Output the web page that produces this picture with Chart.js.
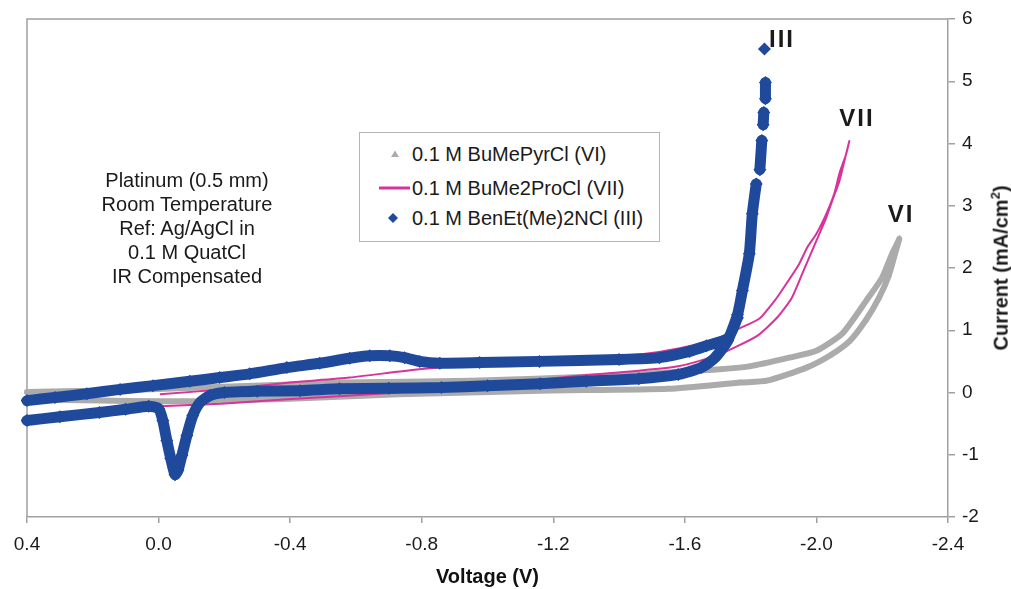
<!DOCTYPE html>
<html>
<head>
<meta charset="utf-8">
<script src="https://cdn.jsdelivr.net/npm/chart.js@4"></script>
<style>
  html, body { margin: 0; padding: 0; background: #fff; }
  #wrap { position: relative; width: 1011px; height: 589px; font-family: "Liberation Sans", Arial, sans-serif; color: #1a1a1a; }
  #cv { position: absolute; left: 0; top: 0; }
  .note { position: absolute; left: 37px; top: 168px; width: 300px; text-align: center; font-size: 20px; line-height: 24px; }
  .legend { position: absolute; left: 359px; top: 132px; width: 301px; height: 110px; border: 1px solid #b5b5b5; background: #fff; box-sizing: border-box; }
  .legend .row { position: absolute; left: 0; height: 24px; line-height: 24px; font-size: 20px; white-space: nowrap; }
  .legend .row span { position: absolute; left: 52px; top: 0; }
  .legend svg { position: absolute; top: 0; }
  .ytitle { position: absolute; left: 1000px; top: 268px; transform: translate(-50%, -50%) rotate(-90deg); font-size: 20px; font-weight: bold; white-space: nowrap; }
  .ytitle sup { font-size: 13px; }
  .tag { position: absolute; font-size: 24px; font-weight: bold; letter-spacing: 2px; transform: translate(-50%, -50%); }
</style>
</head>
<body>
<div id="wrap">
  <canvas id="cv" width="1011" height="589"></canvas>
  <div class="note">Platinum (0.5 mm)<br>Room Temperature<br>Ref: Ag/AgCl in<br>0.1 M QuatCl<br>IR Compensated</div>
  <div class="legend" id="legend"></div>
  <div class="ytitle">Current (mA/cm<sup>2</sup>)</div>
  <div class="tag" style="left:782px;top:39px">III</div>
  <div class="tag" style="left:857px;top:118px">VII</div>
  <div class="tag" style="left:901px;top:214px">VI</div>
</div>
<script>
'use strict';

const SERIES_NAMES = ['0.1 M BuMePyrCl (VI)', '0.1 M BuMe2ProCl (VII)', '0.1 M BenEt(Me)2NCl (III)'];
const GRAY = '#ababab', PINK = '#d8339a', BLUE = '#1f4a9c';

// VI: forward sweep (lower branch) then return (upper branch)
const viVolts = [0.40, 0.18, 0.00, -0.13, -0.40, -0.73, -1.16, -1.55, -1.77, -1.85, -1.97, -2.04, -2.10, -2.15, -2.19, -2.22, -2.246, -2.252,
                 -2.246, -2.23, -2.20, -2.152, -2.079, -2.00, -1.918, -1.797, -1.697, -1.34, -0.95, -0.55, -0.40, -0.13, 0.18, 0.40];
const viCurrent = [-0.11, -0.13, -0.14, -0.14, -0.10, -0.03, 0.03, 0.06, 0.16, 0.19, 0.40, 0.59, 0.82, 1.16, 1.52, 1.88, 2.36, 2.47,
                   2.40, 2.23, 1.85, 1.48, 0.95, 0.67, 0.56, 0.42, 0.37, 0.26, 0.19, 0.16, 0.13, 0.08, 0.03, 0.01];

// VII
const viiVolts = [-0.004, -0.19, -0.39, -0.73, -1.04, -1.26, -1.46, -1.58, -1.70, -1.75, -1.82, -1.88, -1.924, -1.957, -2.00, -2.03, -2.048, -2.07, -2.085, -2.10,
                  -2.091, -2.07, -2.054, -2.03, -2.00, -1.972, -1.948, -1.909, -1.878, -1.827, -1.766, -1.705, -1.584, -1.462, -1.341, -1.158, -0.976, -0.785, -0.581, -0.399, -0.217, -0.004];
const viiCurrent = [-0.22, -0.18, -0.11, 0.00, 0.14, 0.26, 0.35, 0.42, 0.60, 0.72, 0.91, 1.20, 1.51, 1.91, 2.44, 2.81, 3.08, 3.40, 3.72, 4.04,
                    3.84, 3.52, 3.19, 2.87, 2.55, 2.33, 2.07, 1.75, 1.51, 1.19, 1.03, 0.88, 0.71, 0.61, 0.58, 0.51, 0.45, 0.37, 0.24, 0.16, 0.06, -0.03];

// III (null = gap between marker clusters on the steep rise)
const iiiVolts = [0.40, 0.30, 0.18, 0.10, 0.03, 0.00, -0.013, -0.025, -0.037, -0.050, -0.059, -0.071, -0.086, -0.104, -0.126, -0.156, -0.20, -0.30, -0.43, -0.55,
                  -0.70, -0.86, -1.00, -1.16, -1.30, -1.46, -1.58, -1.65, -1.69, -1.73, -1.76, -1.775, -1.796, -1.805, -1.817,
                  null, -1.828, -1.834, null, -1.838, -1.840, null, -1.845, -1.845, null, -1.842, null,
                  -1.76, -1.731, -1.666, -1.614, -1.523, -1.40, -1.158, -0.976, -0.855, -0.794, -0.748, -0.703, -0.642, -0.581, -0.49, -0.39, -0.277, -0.186, -0.095, 0.017, 0.117, 0.218, 0.315, 0.40];
const iiiCurrent = [-0.45, -0.39, -0.32, -0.27, -0.22, -0.26, -0.45, -0.77, -1.06, -1.32, -1.25, -1.01, -0.69, -0.37, -0.16, -0.05, 0.00, 0.02, 0.03, 0.06,
                    0.07, 0.08, 0.11, 0.14, 0.18, 0.22, 0.29, 0.40, 0.55, 0.83, 1.25, 1.64, 2.23, 2.87, 3.35,
                    null, 3.58, 4.05, null, 4.30, 4.50, null, 4.72, 4.98, null, 5.52, null,
                    1.20, 0.87, 0.75, 0.66, 0.56, 0.53, 0.50, 0.48, 0.47, 0.50, 0.56, 0.59, 0.59, 0.55, 0.47, 0.40, 0.30, 0.24, 0.18, 0.11, 0.05, -0.02, -0.08, -0.13];

const xTicks = [0.4, 0.0, -0.4, -0.8, -1.2, -1.6, -2.0, -2.4];

const pts = (xs, ys) => xs.map((x, i) => ({ x: x, y: ys[i] }));
const FONT = '"Liberation Sans", Arial, sans-serif';

// grey frame on top and left of the plot area
const frame = {
  id: 'frame',
  beforeDatasetsDraw(chart) {
    const { ctx, chartArea: a } = chart;
    ctx.save();
    ctx.strokeStyle = '#a0a0a0';
    ctx.lineWidth = 1.5;
    ctx.beginPath();
    ctx.moveTo(a.left, a.bottom);
    ctx.lineTo(a.left, a.top);
    ctx.lineTo(a.right, a.top);
    ctx.stroke();
    ctx.restore();
  }
};

new Chart(document.getElementById('cv'), {
  type: 'scatter',
  data: {
    datasets: [
      { label: SERIES_NAMES[2], data: pts(iiiVolts, iiiCurrent), showLine: true, spanGaps: false, order: 0,
        borderColor: BLUE, backgroundColor: BLUE, borderWidth: 11, borderCapStyle: 'round', borderJoinStyle: 'round',
        pointStyle: 'rectRot', pointRadius: 6.5, pointBorderWidth: 0, tension: 0.2, clip: 6 },
      { label: SERIES_NAMES[1], data: pts(viiVolts, viiCurrent), showLine: true, order: 1,
        borderColor: PINK, borderWidth: 2, pointRadius: 0, tension: 0.2 },
      { label: SERIES_NAMES[0], data: pts(viVolts, viCurrent), showLine: true, order: 2,
        borderColor: GRAY, backgroundColor: GRAY, borderWidth: 6, borderCapStyle: 'round', borderJoinStyle: 'round',
        pointStyle: 'triangle', pointRadius: 3.5, pointBorderWidth: 0, tension: 0.2, clip: 6 },
    ]
  },
  options: {
    responsive: false,
    animation: false,
    events: [],
    layout: { padding: { left: 27, top: 19, right: 0, bottom: 0 } },
    plugins: { legend: { display: false }, tooltip: { enabled: false } },
    scales: {
      x: {
        type: 'linear', min: -2.4, max: 0.4, reverse: true,
        afterBuildTicks: s => { s.ticks = xTicks.map(v => ({ value: v })); },
        afterFit: s => { s.height = 72; },
        ticks: { font: { family: FONT, size: 19 }, color: '#1a1a1a', padding: 10, maxRotation: 0,
                 callback: v => (Math.abs(v) < 1e-9 ? 0 : v).toFixed(1) },
        grid: { drawOnChartArea: false, tickLength: 6, color: '#a0a0a0', lineWidth: 1.5 },
        border: { color: '#a0a0a0', width: 1.5 },
        title: { display: true, text: 'Voltage (V)', font: { family: FONT, size: 20, weight: 'bold' }, color: '#111', padding: { top: 0, bottom: 0 } }
      },
      y: {
        position: 'right', min: -2, max: 6,
        afterFit: s => { s.width = 63; },
        ticks: { stepSize: 1, font: { family: FONT, size: 19 }, color: '#1a1a1a', padding: 7 },
        grid: { drawOnChartArea: false, tickLength: 7, color: '#a0a0a0', lineWidth: 1.5 },
        border: { color: '#a0a0a0', width: 1.5 }
      }
    }
  },
  plugins: [frame]
});

// legend inside the plot
const marks = [
  '<svg width="60" height="24" style="left:0"><polygon points="35,8.5 39,15 31,15" fill="' + GRAY + '"/></svg>',
  '<svg width="60" height="24" style="left:0"><line x1="19" y1="12" x2="50" y2="12" stroke="' + PINK + '" stroke-width="3"/></svg>',
  '<svg width="60" height="24" style="left:0"><polygon points="33,7 38,12 33,17 28,12" fill="' + BLUE + '"/></svg>'
];
const rowTops = [9, 43, 73];
document.getElementById('legend').innerHTML = SERIES_NAMES.map((n, i) =>
  `<div class="row" style="top:${rowTops[i]}px;width:299px">${marks[i]}<span>${n}</span></div>`).join('');
</script>
</body>
</html>
